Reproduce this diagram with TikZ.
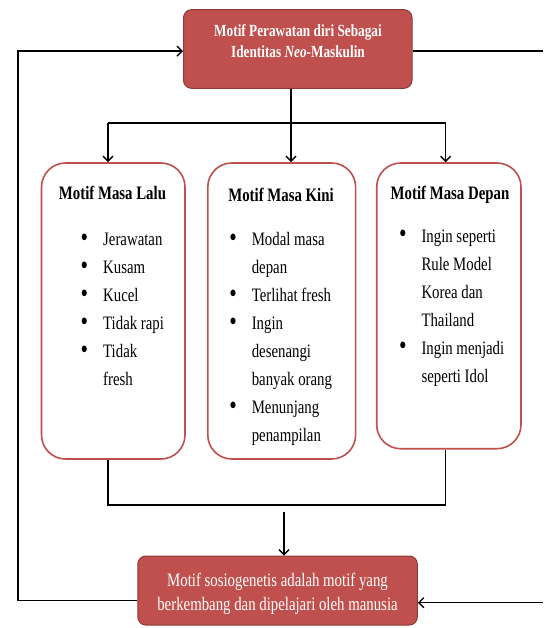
\documentclass[tikz,border=0pt]{standalone}
\usepackage{fontspec}
\setmainfont{Liberation Serif}[FakeStretch=0.78]
\usetikzlibrary{arrows.meta}
\definecolor{boxred}{HTML}{C0504D}
\definecolor{boxedge}{HTML}{8C3A38}
\tikzset{
  redbox/.style={draw=boxedge, line width=1pt, fill=boxred, rounded corners=8pt, inner sep=0pt},
  listbox/.style={draw=boxred, line width=1.6pt, fill=white, rounded corners=24pt, inner sep=0pt},
  conn/.style={line width=1.5pt, black},
  tip/.style={-{Straight Barb[length=5pt,width=10pt,line width=1.4pt]}},
  bodytext/.style={font=\fontsize{19}{28}\selectfont, inner sep=0pt},
  headtext/.style={font=\fontsize{19}{28}\selectfont\bfseries, inner sep=0pt, anchor=base},
}
\newcommand{\bul}{\makebox[21.5pt][l]{\hspace*{-1pt}\raisebox{-0.6pt}{\scalebox{1.45}{\textbullet}}}}
\begin{document}
\begin{tikzpicture}[x=1pt,y=-1pt]
\useasboundingbox (0,0) rectangle (543,628);

% boxes
\node[redbox, minimum width=228.5pt, minimum height=78.6pt] (top) at (297.75,49) {};
\node[listbox, minimum width=143.5pt, minimum height=296pt] (b1) at (113.25,311) {};
\node[listbox, minimum width=147.8pt, minimum height=296pt] (b2) at (281.7,311) {};
\node[listbox, minimum width=144.3pt, minimum height=285.7pt] (b3) at (448.85,305.85) {};
\node[redbox, minimum width=279.5pt, minimum height=69pt] (bot) at (277.55,590.5) {};

% texts of the red boxes
\node[inner sep=0pt, anchor=base, text=white, font=\fontsize{17}{21}\selectfont\bfseries] (toptext) at (298,36.7)
  {\begin{tabular}[t]{@{}c@{}}Motif Perawatan diri Sebagai\\ Identitas \textit{Neo}-Maskulin\end{tabular}};
\node[inner sep=0pt, anchor=base, text=white, font=\fontsize{19}{23.3}\selectfont] (bottext) at (277.5,586.7)
  {\begin{tabular}[t]{@{}c@{}}Motif sosiogenetis adalah motif yang\\ berkembang dan dipelajari oleh manusia\end{tabular}};

% headings
\node[headtext] (h1) at (112.5,199.5) {Motif Masa Lalu};
\node[headtext] (h2) at (281,201) {Motif Masa Kini};
\node[headtext] (h3) at (450,199.5) {Motif Masa Depan};

% bullet lists
\node[bodytext, anchor=base west] (l1) at (81.5,245.5)
  {\begin{tabular}[t]{@{}l@{}l@{}}
   \bul & Jerawatan\\ \bul & Kusam\\ \bul & Kucel\\ \bul & Tidak rapi\\ \bul & Tidak\\ & fresh
   \end{tabular}};
\node[bodytext, anchor=base west] (l2) at (230.1,245.5)
  {\begin{tabular}[t]{@{}l@{}l@{}}
   \bul & Modal masa\\ & depan\\ \bul & Terlihat fresh\\ \bul & Ingin\\ & desenangi\\ & banyak orang\\ \bul & Menunjang\\ & penampilan
   \end{tabular}};
\node[bodytext, anchor=base west] (l3) at (399.8,242.3)
  {\begin{tabular}[t]{@{}l@{}l@{}}
   \bul & Ingin seperti\\ & Rule Model\\ & Korea dan\\ & Thailand\\ \bul & Ingin menjadi\\ & seperti Idol
   \end{tabular}};

% routing points
\coordinate (split) at (291,123);
\coordinate (sL) at (108,123);
\coordinate (sR) at (445.6,123);
\coordinate (mL) at (108,504.8);
\coordinate (mR) at (445.6,504.8);
\coordinate (mid) at (284,511.7);
\coordinate (lb) at (18,600.3);
\coordinate (lt) at (18,51.2);
\coordinate (rt) at (543,51.2);
\coordinate (rb) at (543,602.7);

% fan-out from the top box
\draw[conn] (split |- top.south) -- (split);
\draw[conn] (sL) -- (sR);
\draw[conn,tip] (sL) -- (b1.north -| sL);
\draw[conn,tip] (split) -- (b2.north -| split);
\draw[conn,tip] (sR) -- (b3.north -| sR);

% merge into the bottom box
\draw[conn] (b1.south -| mL) -- (mL) -- (mR) -- (b3.south -| mR);
\draw[conn,tip] (mid) -- (bot.north -| mid);

% feedback loops
\draw[conn,tip] (bot.west |- lb) -- (lb) -- (lt) -- (top.west |- lt);
\draw[conn] (top.east |- rt) -- (rt);
\draw[conn,tip] (rb) -- (bot.east |- rb);
\end{tikzpicture}
\end{document}
